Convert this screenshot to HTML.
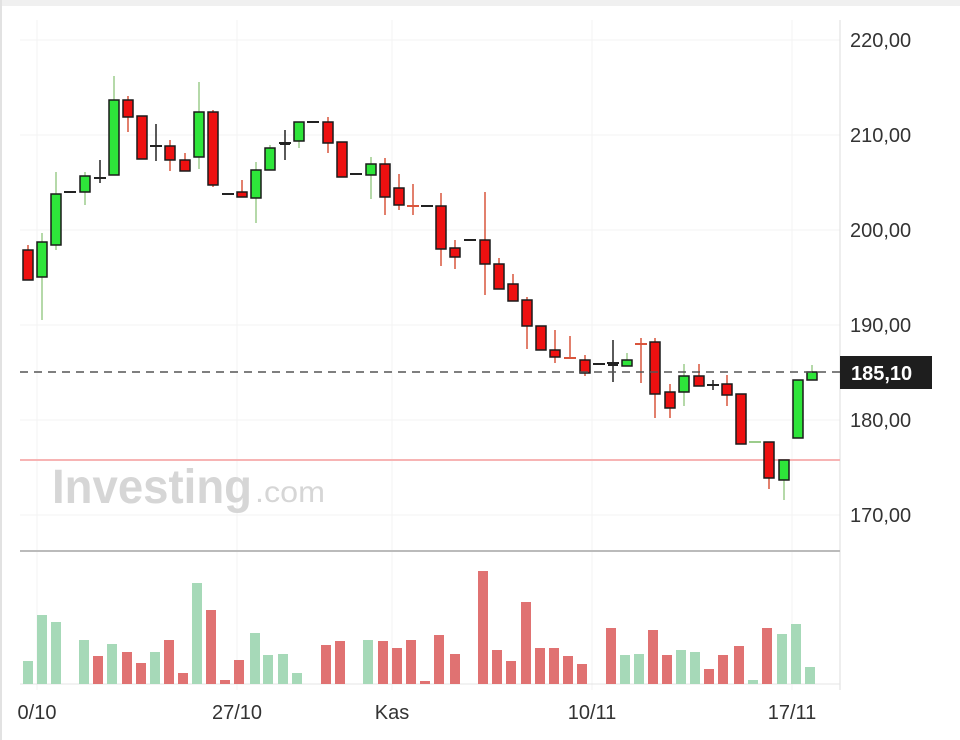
<!DOCTYPE html>
<html><head><meta charset="utf-8"><style>
html,body{margin:0;padding:0;background:#fff;width:960px;height:740px;overflow:hidden;font-family:"Liberation Sans",sans-serif}
</style></head><body>
<svg id="s" width="960" height="740" xmlns="http://www.w3.org/2000/svg" style="position:absolute;left:0;top:0">
<rect x="0" y="0" width="960" height="740" fill="#fff"/>
<rect x="0" y="0" width="960" height="6" fill="#f0f0f0"/>
<rect x="0" y="0" width="2" height="740" fill="#e2e2e2"/>
<g stroke="#f3f3f3" stroke-width="1">
<line x1="20" y1="40" x2="840" y2="40"/><line x1="20" y1="135" x2="840" y2="135"/>
<line x1="20" y1="230" x2="840" y2="230"/><line x1="20" y1="325" x2="840" y2="325"/>
<line x1="20" y1="420" x2="840" y2="420"/><line x1="20" y1="515" x2="840" y2="515"/>
<line x1="37" y1="20" x2="37" y2="690"/><line x1="237" y1="20" x2="237" y2="690"/>
<line x1="392" y1="20" x2="392" y2="690"/><line x1="592" y1="20" x2="592" y2="690"/>
<line x1="792" y1="20" x2="792" y2="690"/>
</g>
<line x1="840" y1="20" x2="840" y2="690" stroke="#ddd"/>
<line x1="20" y1="551" x2="840" y2="551" stroke="#bbb" stroke-width="2"/>
<line x1="20" y1="684" x2="840" y2="684" stroke="#e4e4e4"/>
<line x1="20" y1="460" x2="840" y2="460" stroke="#f7b4b4" stroke-width="2"/>
<text x="52" y="503" font-size="48" font-weight="bold" fill="#d6d6d6" textLength="200" lengthAdjust="spacingAndGlyphs">Investing</text>
<text x="255" y="502" font-size="30" fill="#d6d6d6" textLength="70" lengthAdjust="spacingAndGlyphs">.com</text>
<g id="vol"></g>
<g id="cs"></g>
<line x1="20" y1="372" x2="840" y2="372" stroke="#555" stroke-width="1.5" stroke-dasharray="8,6"/>
<g font-size="20" fill="#333">
<text x="850" y="47">220,00</text><text x="850" y="142">210,00</text>
<text x="850" y="237">200,00</text><text x="850" y="332">190,00</text>
<text x="850" y="427">180,00</text><text x="850" y="522">170,00</text>
</g>
<rect x="840" y="356" width="92" height="33" fill="#1e1e1e"/>
<text x="851" y="380" font-size="20" fill="#fff" font-weight="bold">185,10</text>
<g font-size="20" fill="#333" text-anchor="middle">
<text x="37" y="719">0/10</text><text x="237" y="719">27/10</text>
<text x="392" y="719">Kas</text><text x="592" y="719">10/11</text><text x="792" y="719">17/11</text>
</g>
</svg>
<script>
var C=[[28,'r',250,280,245,280],[42,'g',242,277,233,320],[56,'g',194,245,172,250],[70,'d',192,192,192,192],
[85,'g',176,192,172,205],[100,'d',178,178,160,183],[114,'g',100,175,76,175],[128,'r',100,117,96,132],
[142,'r',116,159,116,159],[156,'d',146,146,124,161],[170,'r',146,160,140,171],[185,'r',160,171,153,171],
[199,'g',112,157,82,169],[213,'r',112,185,110,187],[228,'d',194,194,194,194],[242,'r',192,197,180,197],
[256,'g',170,198,162,223],[270,'g',148,170,145,170],[285,'d',143,145,130,160],[299,'g',122,141,122,148],
[313,'d',122,122,122,122],[328,'r',122,143,117,153],[342,'r',142,177,142,177],[356,'d',174,174,174,174],
[371,'g',164,175,157,199],[385,'r',164,197,158,215],[399,'r',188,205,174,210],[413,'x',206,206,184,215],
[427,'d',206,206,206,206],[441,'r',206,249,193,266],[455,'r',248,257,240,269],[470,'d',240,240,240,240],
[485,'r',240,264,192,295],[499,'r',264,289,258,289],[513,'r',284,301,274,301],[527,'r',300,326,297,349],
[541,'r',326,350,326,350],[555,'r',350,357,330,363],[570,'x',358,358,336,358],[585,'r',360,373,355,376],
[599,'d',364,364,364,364],[613,'d',363,366,340,382],[627,'g',360,366,353,366],[641,'x',344,344,338,383],
[655,'r',342,394,338,418],[670,'r',392,408,384,418],[684,'g',376,392,364,406],[699,'r',376,386,364,386],
[713,'d',385,385,380,390],[727,'r',384,395,375,406],[741,'r',394,444,394,444],[755,'gd',442,442,442,442],
[769,'r',442,478,442,489],[784,'g',460,480,460,500],[798,'g',380,438,380,438],[812,'g',372,380,365,380]];
var V=[[28,'g',661],[42,'g',615],[56,'g',622],[84,'g',640],[98,'r',656],[112,'g',644],[127,'r',652],[141,'r',663],
[155,'g',652],[169,'r',640],[183,'r',673],[197,'g',583],[211,'r',610],[225,'r',680],[239,'r',660],[255,'g',633],[268,'g',655],
[283,'g',654],[297,'g',673],[326,'r',645],[340,'r',641],[368,'g',640],[383,'r',641],[397,'r',648],[411,'r',640],
[425,'r',681],[439,'r',635],[455,'r',654],[483,'r',571],[497,'r',650],[511,'r',661],[526,'r',602],[540,'r',648],
[554,'r',648],[568,'r',656],[582,'r',664],[611,'r',628],[625,'g',655],[639,'g',654],[653,'r',630],[667,'r',655],
[681,'g',650],[695,'g',652],[709,'r',669],[723,'r',655],[739,'r',646],[753,'g',680],[767,'r',628],[782,'g',634],
[796,'g',624],[810,'g',667]];
var ns='http://www.w3.org/2000/svg';
function el(p,t,a){var e=document.createElementNS(ns,t);for(var k in a)e.setAttribute(k,a[k]);p.appendChild(e);}
var vg=document.getElementById('vol');
V.forEach(function(v){el(vg,'rect',{x:v[0]-5,y:v[2],width:10,height:684-v[2],fill:v[1]=='g'?'#a6d9b8':'#e07272'});});
var cg=document.getElementById('cs');
C.forEach(function(c){var x=c[0],t=c[1];
 var wc=t=='g'||t=='gd'?'#9ccc8c':(t=='r'||t=='x'?'#d9553c':'#222');
 if(c[4]<c[2]||c[5]>c[3]) el(cg,'line',{x1:x,y1:c[4],x2:x,y2:c[5],stroke:wc,'stroke-width':1.5});
 if(t=='d'||t=='x'||t=='gd'){el(cg,'line',{x1:x-6,y1:c[2],x2:x+6,y2:c[2],stroke:t=='x'?'#d9553c':(t=='gd'?'#9ccc8c':'#222'),'stroke-width':2});
  if(c[3]>c[2]+1) el(cg,'rect',{x:x-5,y:c[2],width:10,height:c[3]-c[2],fill:'#222'});}
 else el(cg,'rect',{x:x-5,y:c[2],width:10,height:Math.max(2,c[3]-c[2]),fill:t=='g'?'#2ee53a':'#ee1010',stroke:'#1a1a1a','stroke-width':1.5});
});
</script>
</body></html>
